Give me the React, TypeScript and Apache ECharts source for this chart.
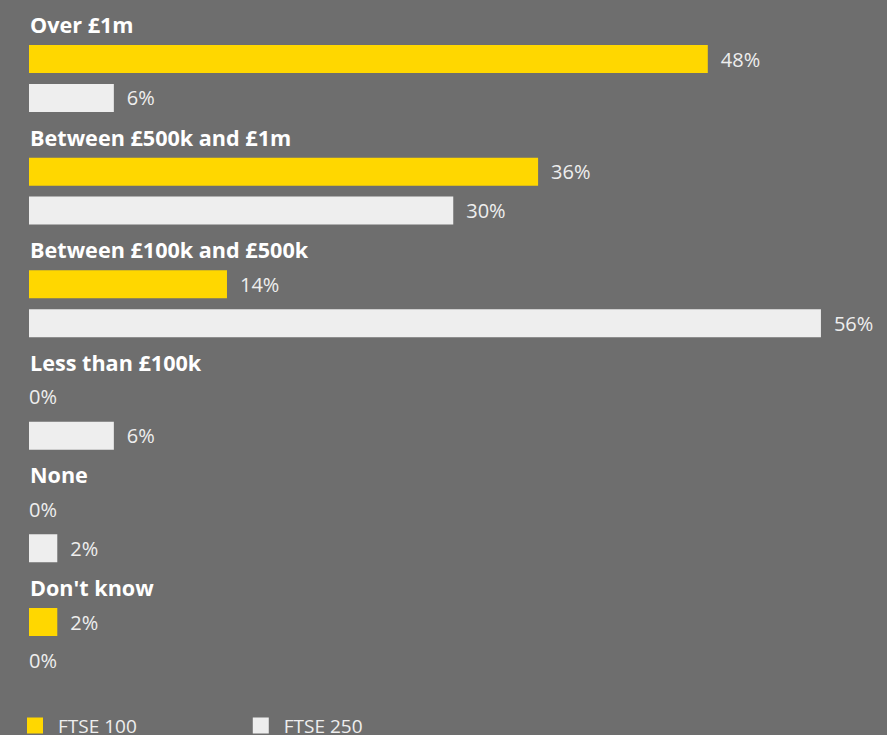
import React, { useEffect, useRef } from "react";
import * as echarts from "echarts";

const categories = ["Over £1m", "Between £500k and £1m", "Between £100k and £500k", "Less than £100k", "None", "Don't know"];
const ftse100 = [48, 36, 14, 0, 0, 2];
const ftse250 = [6, 30, 56, 6, 2, 0];
const seriesNames = ["FTSE 100", "FTSE 250"];

const FONT = "'Open Sans', 'Noto Sans', sans-serif";
const LABEL = "#eeeeee";

function buildData(vals: number[]) {
  return vals.map((v) => ({
    value: v,
    label: v === 0 ? { distance: 0 } : undefined,
  }));
}

export default function App() {
  const ref = useRef<HTMLDivElement>(null);
  useEffect(() => {
    if (!ref.current) return;
    const chart = echarts.init(ref.current, undefined, { renderer: "svg" });
    const labelCfg = {
      show: true,
      position: "right",
      distance: 13,
      formatter: "{c}%",
      color: LABEL,
      fontFamily: FONT,
      fontSize: 20,
    };
    chart.setOption({
      animation: false,
      backgroundColor: "#6e6e6e",
      grid: {
        left: 29,
        right: 9.5,
        top: 22.2,
        height: 675.6,
        containLabel: false,
        outerBoundsMode: "none",
      },
      xAxis: { type: "value", min: 0, max: 60, show: false },
      yAxis: {
        type: "category",
        data: categories,
        inverse: true,
        axisLine: { show: false },
        axisTick: { show: false },
        splitLine: { show: false },
        axisLabel: {
          inside: true,
          interval: 0,
          showMinLabel: true,
          showMaxLabel: true,
          hideOverlap: false,
          margin: 1,
          align: "left",
          verticalAlign: "bottom",
          lineHeight: 108,
          color: "#ffffff",
          fontWeight: "bold",
          fontSize: 21.6,
          fontFamily: FONT,
        },
      },
      legend: {
        data: seriesNames,
        left: 27,
        top: 716,
        padding: 0,
        icon: "rect",
        itemWidth: 16,
        itemHeight: 16,
        itemGap: 116,
        textStyle: { color: LABEL, fontSize: 19, fontFamily: FONT, padding: [0, 0, 0, 10] },
      },
      series: [
        {
          name: seriesNames[0],
          type: "bar",
          data: buildData(ftse100),
          barWidth: 28,
          barGap: "39%",
          itemStyle: { color: "#ffd700" },
          label: labelCfg,
        },
        {
          name: seriesNames[1],
          type: "bar",
          data: buildData(ftse250),
          barWidth: 28,
          barGap: "39%",
          itemStyle: { color: "#eeeeee" },
          label: labelCfg,
        },
      ],
    });
    return () => chart.dispose();
  }, []);
  return <div ref={ref} style={{ position: "fixed", left: 0, top: 0, width: 887, height: 735 }} />;
}
